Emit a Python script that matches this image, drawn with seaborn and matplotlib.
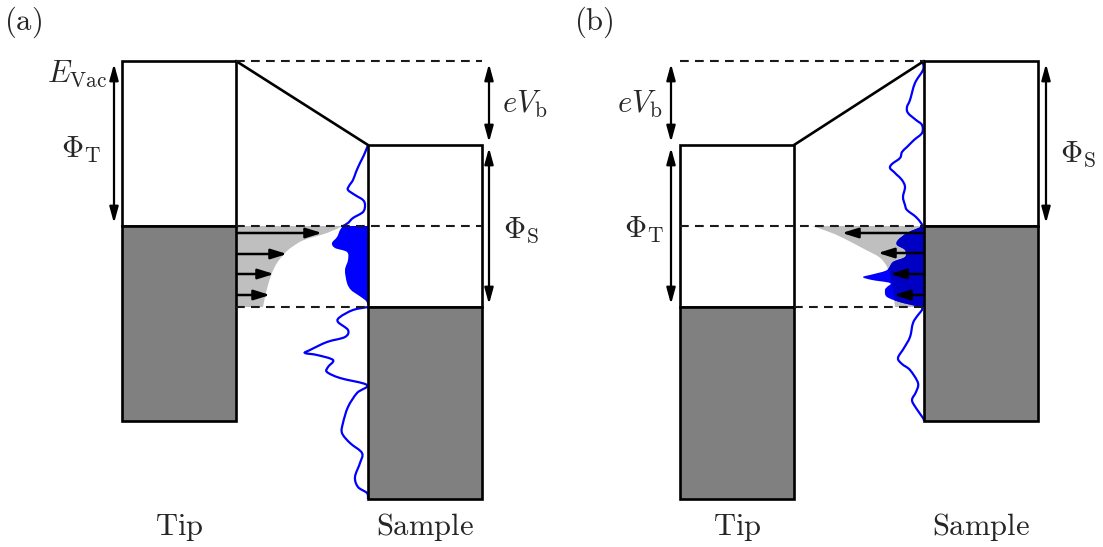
import numpy as np
import matplotlib
matplotlib.use("Agg")
import matplotlib.pyplot as plt
from matplotlib.patches import Rectangle, PathPatch
from matplotlib.path import Path
import seaborn as sns

# ---------------- data (energy axis in drawing units, increasing downward) ----
# levels: [vacuum, Fermi, band bottom]
A_TIP_LEVELS = [61, 226, 421]
A_SAMPLE_LEVELS = [145, 307, 499]
B_TIP_LEVELS = [145, 307, 499]
B_SAMPLE_LEVELS = [61, 226, 421]

# sample density of states, panel (a): energy and amplitude (into the gap)
DOS_A_E = [145, 155, 163, 172, 180, 186, 190, 195, 200, 205, 212, 218, 223,
           226, 230, 237, 243, 248, 252, 260, 270, 283, 290, 295, 300, 303, 307,
           310, 317, 322, 330, 337, 342, 350, 353, 355, 360, 367, 372, 378, 385,
           393, 407, 423, 433, 443, 453, 463, 477, 487, 493, 499]
DOS_A_W = [0, 4, 8, 12, 15, 19, 20, 13, 5, 3, 5, 15, 20,
           25, 28, 31, 36, 33, 21, 20, 23, 21, 17, 10, 3, 1, 0,
           15, 28, 30, 20, 23, 41, 58, 63, 51, 35, 40, 41, 28, 1,
           11, 20, 25, 26, 18, 6, 8, 13, 10, 1, 0]

# sample density of states, panel (b)
DOS_B_E = [63, 70, 83, 100, 107, 113, 120, 125, 133, 140, 147, 152, 158, 164,
           168, 172, 175, 180, 187, 197, 205, 210, 217, 223,
           226, 229, 233, 240, 245, 250, 257, 262, 270, 274, 277, 280, 283, 287,
           290, 297, 303, 307,
           310, 315, 323, 337, 348, 358, 364, 370, 383, 392, 400, 408, 418, 421]
DOS_B_W = [1, 1, 9, 14, 17, 16, 8, 2, 2, 10, 17, 22, 24, 32,
           34, 30, 27, 22, 19, 21, 19, 17, 8, 3,
           1, 8, 17, 26, 27, 19, 19, 31, 37, 50, 61, 52, 34, 37,
           39, 37, 21, 2,
           2, 6, 11, 14, 20, 26, 22, 14, 6, 8, 12, 8, 1, 0]

# tunnelling window (grey), width from the emitting electrode
TUN_A_E = [226, 233, 240, 247, 253, 263, 273, 285, 297, 307]
TUN_A_W = [107, 91, 68, 56, 49, 41, 36, 32, 29, 27]
TUN_B_E = [226, 233, 240, 250, 257, 265, 275, 290, 307]
TUN_B_W = [112, 92, 77, 58, 45, 38, 34, 31, 29]

# tunnelling current arrows: energy and length
ARR_A_E = [233, 254, 274, 295]
ARR_A_L = [84, 49, 36, 32]
ARR_B_E = [233, 253, 274, 295]
ARR_B_L = [80, 44, 32, 28]

TEXT_PANEL = ["(a)", "(b)"]
TEXT_ELEC = ["Tip", "Sample"]

# ---------------- style -------------------------------------------------------
sns.set_theme(style="white")
plt.rcParams["font.family"] = ["DejaVu Serif"]
plt.rcParams["mathtext.fontset"] = "cm"

GREY_BOX = "#808080"
GREY_TUN = "#bfbfbf"
BLUE = "#0000ff"
DBLUE = "#0000c4"
LW_BOX = 1.9
FS = 22

fig = plt.figure(figsize=(11.03, 5.47), dpi=100)
ax = fig.add_axes([0, 0, 1, 1])
ax.set_xlim(0, 1103)
ax.set_ylim(547, 0)
ax.axis("off")


def smooth(x, y):
    """Cubic Bezier segments through the given points (Catmull-Rom handles)."""
    P = np.column_stack([x, y]).astype(float)
    n = len(P)
    verts, codes = [P[0]], [Path.MOVETO]
    for i in range(n - 1):
        p0, p1, p2, p3 = P[max(i - 1, 0)], P[i], P[i + 1], P[min(i + 2, n - 1)]
        verts += [p1 + (p2 - p0) / 6, p2 - (p3 - p1) / 6, p2]
        codes += [Path.CURVE4] * 3
    return verts, codes


def curve(x, y, **kw):
    v, c = smooth(x, y)
    ax.add_patch(PathPatch(Path(v, c), fill=False, **kw))


def region(x, y, edge, **kw):
    v, c = smooth(x, y)
    v = v + [(edge, y[-1]), (edge, y[0]), (edge, y[0])]
    c = c + [Path.LINETO, Path.LINETO, Path.CLOSEPOLY]
    p = PathPatch(Path(v, c), **kw)
    ax.add_patch(p)
    return p


def electrode(x0, x1, lev):
    vac, ef, bot = lev
    ax.add_patch(Rectangle((x0, vac), x1 - x0, ef - vac, facecolor="white",
                           edgecolor="black", lw=LW_BOX, zorder=5))
    ax.add_patch(Rectangle((x0, ef), x1 - x0, bot - ef, facecolor=GREY_BOX,
                           edgecolor="black", lw=LW_BOX, zorder=5))


def dashed(x0, x1, y):
    ln, = ax.plot([x0, x1], [y, y], color="0.1", lw=1.5, zorder=6)
    ln.set_dashes([4.2, 3.0])


def darrow(x, y0, y1):
    ax.annotate("", xy=(x, y0), xytext=(x, y1),
                arrowprops=dict(arrowstyle="<|-|>,head_length=0.8,head_width=0.22",
                                lw=1.6, color="black", mutation_scale=12,
                                shrinkA=2, shrinkB=2), zorder=6)


def harrow(x0, x1, y):
    ax.annotate("", xy=(x1, y), xytext=(x0, y),
                arrowprops=dict(arrowstyle="-|>,head_length=0.8,head_width=0.25",
                                lw=1.8, color="black", mutation_scale=12,
                                shrinkA=0, shrinkB=0), zorder=7)


def math(x, y, s, ha):
    ax.text(x, y, s, fontsize=FS, ha=ha, va="baseline", zorder=8)


def dos(edge, E, W, ef_hi, ef_lo, dark_clip=None):
    e = np.array(E, float)
    x = edge - np.array(W, float)
    up = e <= ef_hi
    mid = (e >= ef_hi) & (e <= ef_lo)
    lo = e >= ef_lo
    region(x[mid], e[mid], edge, facecolor=BLUE, edgecolor="none", zorder=2.1)
    if dark_clip is not None:
        p = region(x[mid], e[mid], edge, facecolor=DBLUE, edgecolor="none", zorder=2.2)
        p.set_clip_path(dark_clip)
    curve(x[up], e[up], edgecolor=BLUE, lw=1.6, zorder=4)
    curve(x[lo], e[lo], edgecolor=BLUE, lw=1.6, zorder=4)


# ================= panel (a) =================
ta, sa = (122, 236), (368, 482)
region(ta[1] + np.array(TUN_A_W, float), np.array(TUN_A_E, float), ta[1],
       facecolor=GREY_TUN, edgecolor="none", zorder=2)
dos(sa[0], DOS_A_E, DOS_A_W, A_TIP_LEVELS[1], A_SAMPLE_LEVELS[1])

dashed(ta[1], sa[1], A_TIP_LEVELS[0])
dashed(ta[1], sa[1], A_TIP_LEVELS[1])
dashed(ta[1], sa[0], A_SAMPLE_LEVELS[1])
sns.lineplot(x=[ta[1], sa[0]], y=[A_TIP_LEVELS[0], A_SAMPLE_LEVELS[0]],
             color="black", lw=LW_BOX, ax=ax, zorder=5)
electrode(*ta, A_TIP_LEVELS)
electrode(*sa, A_SAMPLE_LEVELS)
for e, L in zip(ARR_A_E, ARR_A_L):
    harrow(ta[1] + 2, ta[1] + 2 + L, e)

darrow(114, A_TIP_LEVELS[0], A_TIP_LEVELS[1])
darrow(489, A_TIP_LEVELS[0], A_SAMPLE_LEVELS[0])
darrow(489, A_SAMPLE_LEVELS[0], A_SAMPLE_LEVELS[1])
math(107, 82, r"$E_{\mathrm{Vac}}$", "right")
math(101, 158, r"$\Phi_{\mathrm{T}}$", "right")
math(502, 113, r"$eV_{\mathrm{b}}$", "left")
math(503, 238, r"$\Phi_{\mathrm{S}}$", "left")
ax.text(4, 30, r"$\mathrm{%s}$" % TEXT_PANEL[0], fontsize=FS, ha="left", va="baseline")
ax.text(179, 535, r"$\mathrm{%s}$" % TEXT_ELEC[0], fontsize=FS, ha="center", va="baseline")
ax.text(425, 535, r"$\mathrm{%s}$" % TEXT_ELEC[1], fontsize=FS, ha="center", va="baseline")

# ================= panel (b) =================
tb, sb = (680, 794), (924, 1038)
gray_b = region(sb[0] - np.array(TUN_B_W, float), np.array(TUN_B_E, float), sb[0],
                facecolor=GREY_TUN, edgecolor="none", zorder=2)
dos(sb[0], DOS_B_E, DOS_B_W, B_SAMPLE_LEVELS[1], B_TIP_LEVELS[1], dark_clip=gray_b)

dashed(tb[0], sb[0], B_SAMPLE_LEVELS[0])
dashed(tb[0], sb[0], B_SAMPLE_LEVELS[1])
dashed(tb[1], sb[0], B_TIP_LEVELS[1])
sns.lineplot(x=[tb[1], sb[0]], y=[B_TIP_LEVELS[0], B_SAMPLE_LEVELS[0]],
             color="black", lw=LW_BOX, ax=ax, zorder=5)
electrode(*tb, B_TIP_LEVELS)
electrode(*sb, B_SAMPLE_LEVELS)
for e, L in zip(ARR_B_E, ARR_B_L):
    harrow(sb[0] - 2, sb[0] - 2 - L, e)

darrow(671, B_SAMPLE_LEVELS[0], B_TIP_LEVELS[0])
darrow(671, B_TIP_LEVELS[0], B_TIP_LEVELS[1])
darrow(1046, B_SAMPLE_LEVELS[0], B_SAMPLE_LEVELS[1])
math(662, 113, r"$eV_{\mathrm{b}}$", "right")
math(664, 238, r"$\Phi_{\mathrm{T}}$", "right")
math(1060, 162, r"$\Phi_{\mathrm{S}}$", "left")
ax.text(574, 30, r"$\mathrm{%s}$" % TEXT_PANEL[1], fontsize=FS, ha="left", va="baseline")
ax.text(737, 535, r"$\mathrm{%s}$" % TEXT_ELEC[0], fontsize=FS, ha="center", va="baseline")
ax.text(981, 535, r"$\mathrm{%s}$" % TEXT_ELEC[1], fontsize=FS, ha="center", va="baseline")

ax.set_xlim(0, 1103)
ax.set_ylim(547, 0)
fig.savefig("out.png", dpi=100)
